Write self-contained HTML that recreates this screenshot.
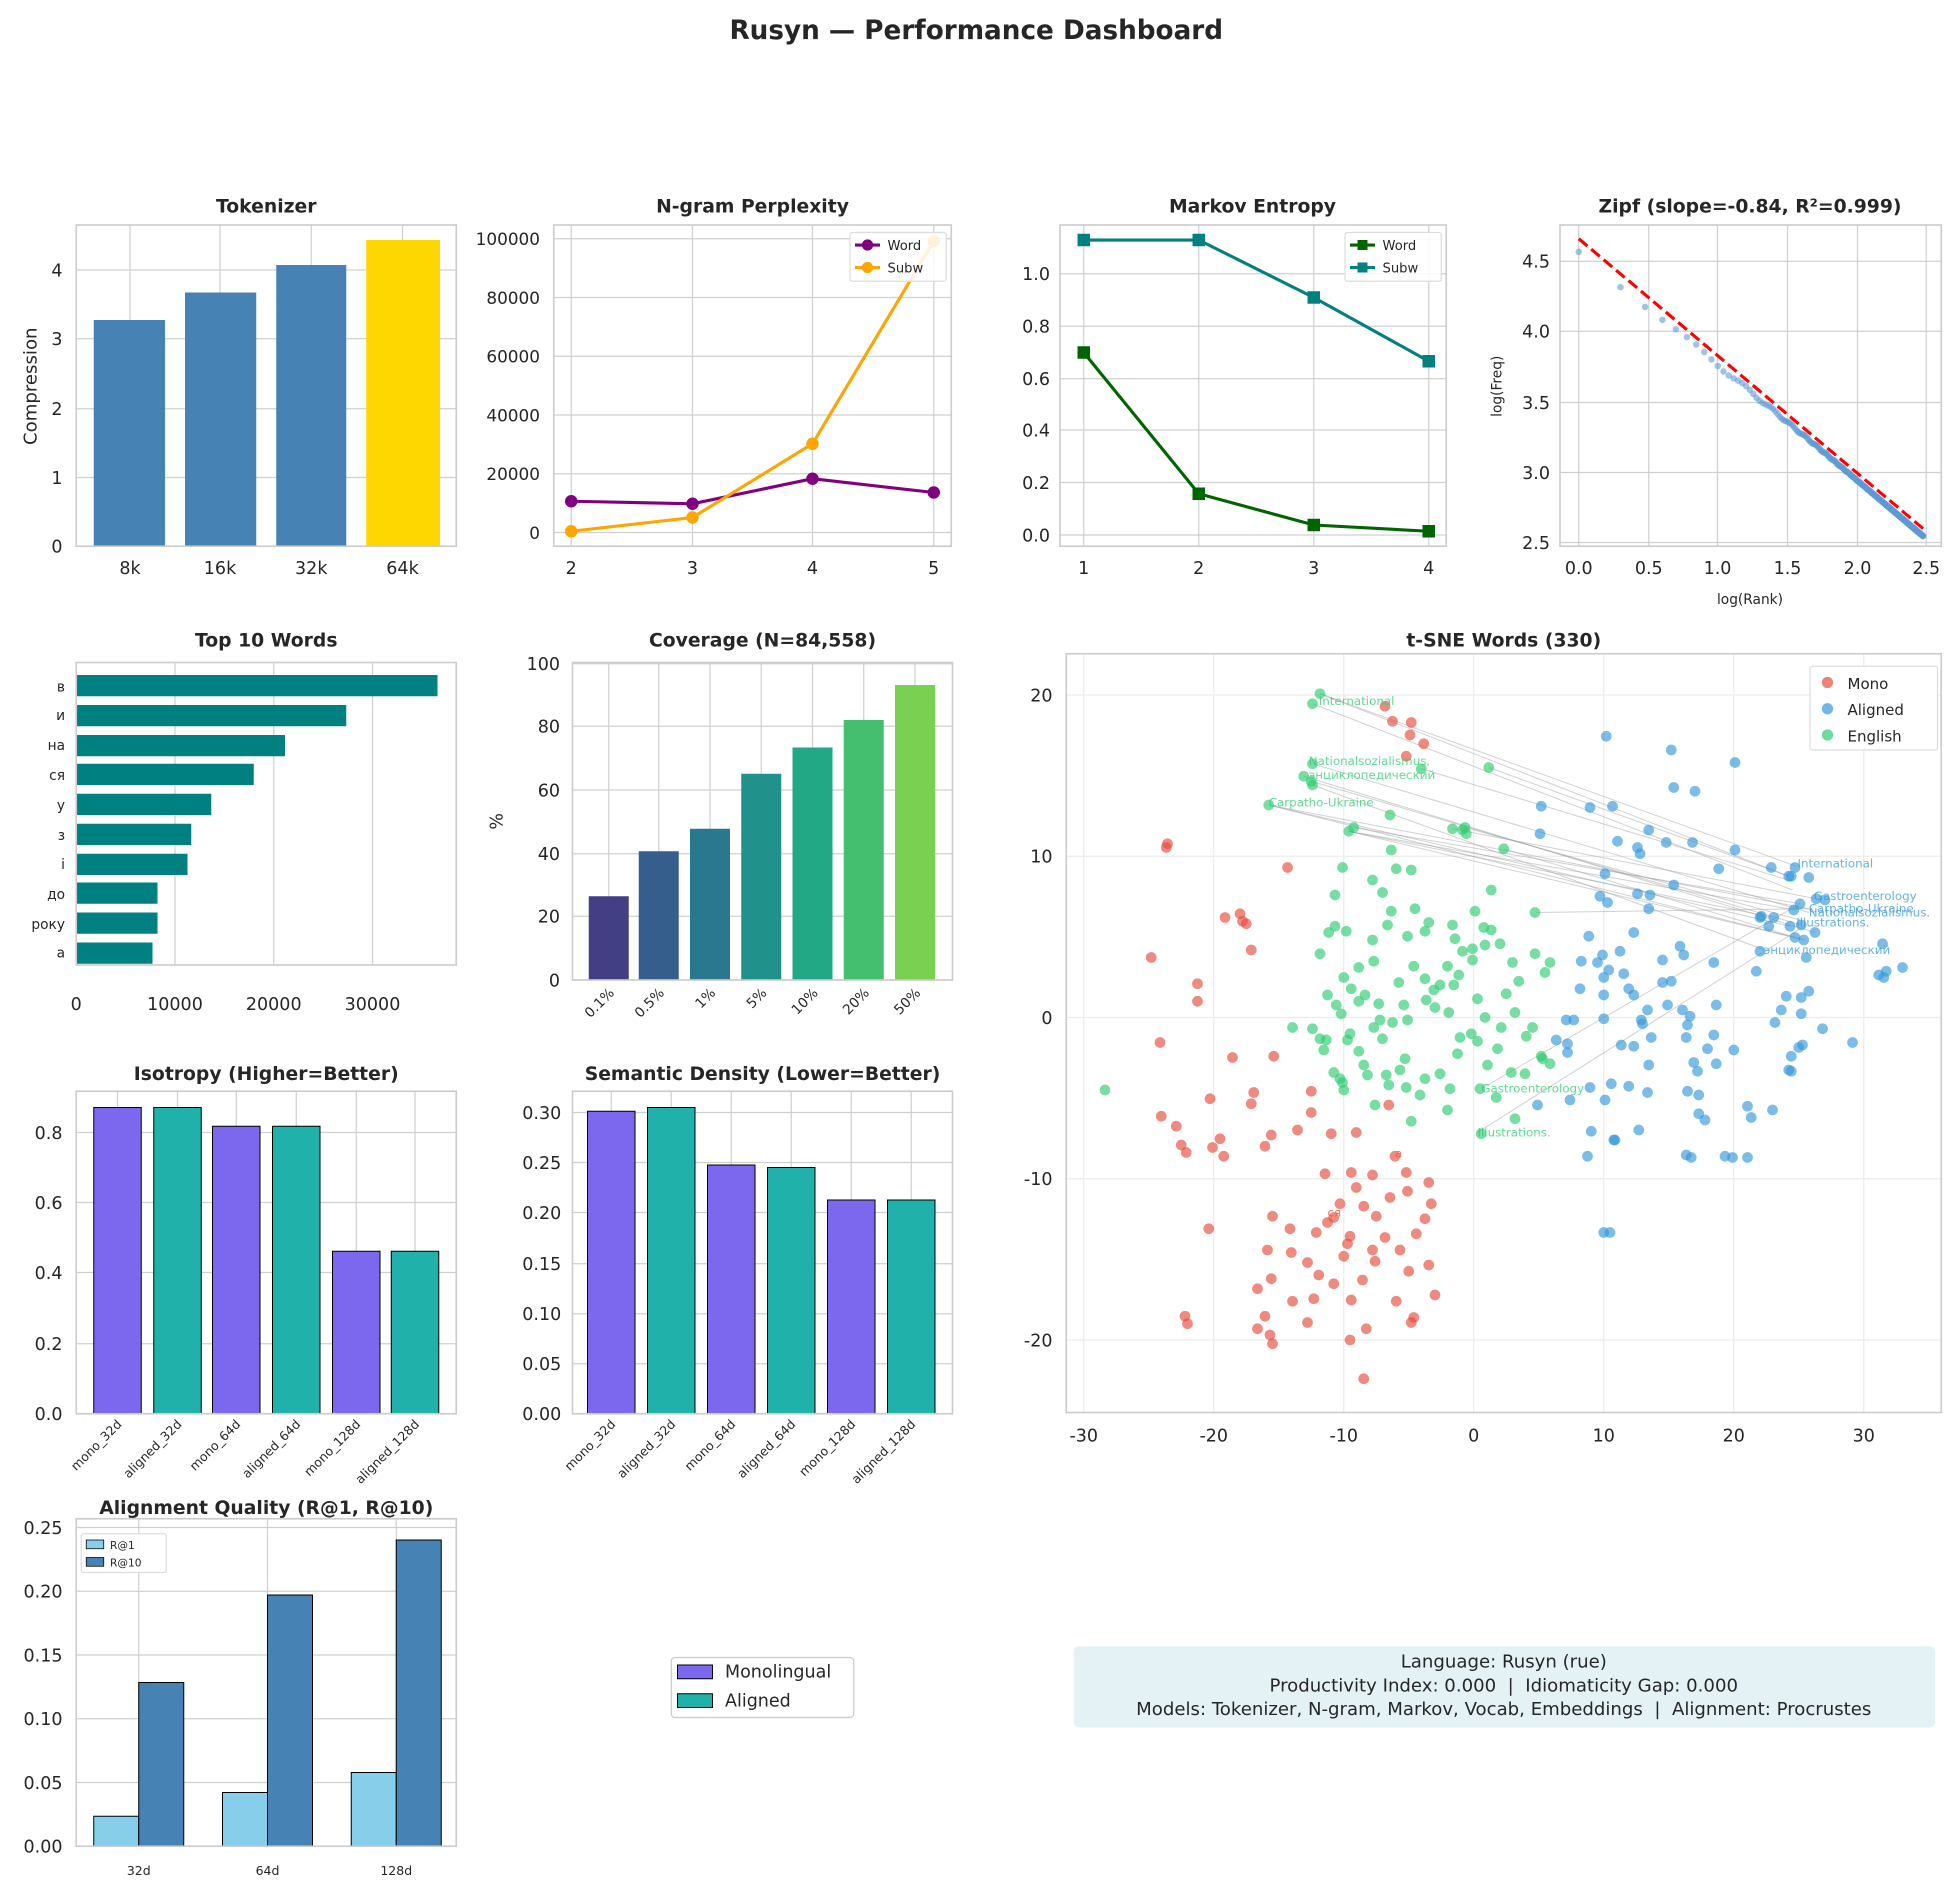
<!DOCTYPE html>
<html><head><meta charset="utf-8"><style>
html,body{margin:0;padding:0;background:#fff}
svg{display:block}
text{font-family:"DejaVu Sans","Liberation Sans",sans-serif;fill:#262626}
.t{font-weight:bold;font-size:15px;text-anchor:middle}
.k{font-size:14px}
.s{font-size:11px}
.g{stroke:#d0d0d0;stroke-width:1}
.ax{fill:none;stroke:#cccccc;stroke-width:1.3}
</style></head><body>
<svg id="sv" width="1953" height="1886" viewBox="0 0 1562.4 1508.8" xmlns="http://www.w3.org/2000/svg">
<rect width="1562.4" height="1508.8" fill="#fff"/>
<text x="781" y="31" style="font-weight:bold;font-size:21px;text-anchor:middle">Rusyn — Performance Dashboard</text>

<!-- Tokenizer -->
<g>
<text class="t" x="213" y="170">Tokenizer</text>
<g class="g"><line x1="61" x2="365" y1="437" y2="437"/><line x1="61" x2="365" y1="382" y2="382"/><line x1="61" x2="365" y1="327" y2="327"/><line x1="61" x2="365" y1="271" y2="271"/><line x1="61" x2="365" y1="216" y2="216"/>
<line x1="104" x2="104" y1="180" y2="437"/><line x1="176" x2="176" y1="180" y2="437"/><line x1="249" x2="249" y1="180" y2="437"/><line x1="322" x2="322" y1="180" y2="437"/></g>
<rect x="75" y="256" width="57" height="181" fill="#4682b4"/>
<rect x="148" y="234" width="57" height="203" fill="#4682b4"/>
<rect x="221" y="212" width="56" height="225" fill="#4682b4"/>
<rect x="293" y="192" width="59" height="245" fill="#ffd700"/>
<rect class="ax" x="61" y="180" width="304" height="257"/>
<g class="k" text-anchor="end"><text x="50" y="442">0</text><text x="50" y="387">1</text><text x="50" y="332">2</text><text x="50" y="276">3</text><text x="50" y="221">4</text></g>
<g class="k" text-anchor="middle"><text x="104" y="459">8k</text><text x="176" y="459">16k</text><text x="249" y="459">32k</text><text x="322" y="459">64k</text></g>
<text class="k" transform="translate(29,309) rotate(-90)" text-anchor="middle" style="font-size:14.5px">Compression</text>
</g>

<!-- N-gram -->
<g>
<text class="t" x="602" y="170">N-gram Perplexity</text>
<g class="g"><line x1="443" x2="761" y1="426" y2="426"/><line x1="443" x2="761" y1="379" y2="379"/><line x1="443" x2="761" y1="332" y2="332"/><line x1="443" x2="761" y1="285" y2="285"/><line x1="443" x2="761" y1="238" y2="238"/><line x1="443" x2="761" y1="191" y2="191"/>
<line x1="457" x2="457" y1="180" y2="437"/><line x1="554" x2="554" y1="180" y2="437"/><line x1="650" x2="650" y1="180" y2="437"/><line x1="747" x2="747" y1="180" y2="437"/></g>
<rect class="ax" x="443" y="180" width="318" height="257"/>
<polyline points="457,401 554,403 650,383 747,394" fill="none" stroke="#800080" stroke-width="2.5"/>
<g fill="#800080"><circle cx="457" cy="401" r="5"/><circle cx="554" cy="403" r="5"/><circle cx="650" cy="383" r="5"/><circle cx="747" cy="394" r="5"/></g>
<polyline points="457,425 554,414 650,355 747,193" fill="none" stroke="#ffa500" stroke-width="2.5"/>
<g fill="#ffa500"><circle cx="457" cy="425" r="5"/><circle cx="554" cy="414" r="5"/><circle cx="650" cy="355" r="5"/><circle cx="747" cy="193" r="5"/></g>
<g text-anchor="end" style="font-size:13.5px"><text x="432" y="431">0</text><text x="432" y="384">20000</text><text x="432" y="337">40000</text><text x="432" y="290">60000</text><text x="432" y="243">80000</text><text x="432" y="196">100000</text></g>
<g class="k" text-anchor="middle"><text x="457" y="459">2</text><text x="554" y="459">3</text><text x="650" y="459">4</text><text x="747" y="459">5</text></g>
<rect x="680" y="186" width="77" height="39" fill="#fff" fill-opacity="0.85" stroke="#ddd" rx="2"/>
<line x1="684" x2="704" y1="196" y2="196" stroke="#800080" stroke-width="2.5"/><circle cx="694" cy="196" r="4.5" fill="#800080"/>
<line x1="684" x2="704" y1="214" y2="214" stroke="#ffa500" stroke-width="2.5"/><circle cx="694" cy="214" r="4.5" fill="#ffa500"/>
<text x="710" y="200" style="font-size:10.5px">Word</text><text x="710" y="218" style="font-size:10.5px">Subw</text>
</g>

<!-- Markov -->
<g>
<text class="t" x="1002" y="170">Markov Entropy</text>
<g class="g"><line x1="848" x2="1157" y1="428" y2="428"/><line x1="848" x2="1157" y1="386" y2="386"/><line x1="848" x2="1157" y1="344" y2="344"/><line x1="848" x2="1157" y1="303" y2="303"/><line x1="848" x2="1157" y1="261" y2="261"/><line x1="848" x2="1157" y1="219" y2="219"/>
<line x1="867" x2="867" y1="180" y2="437"/><line x1="959" x2="959" y1="180" y2="437"/><line x1="1051" x2="1051" y1="180" y2="437"/><line x1="1143" x2="1143" y1="180" y2="437"/></g>
<rect class="ax" x="848" y="180" width="309" height="257"/>
<polyline points="867,282 959,395 1051,420 1143,425" fill="none" stroke="#006400" stroke-width="2.5"/>
<g fill="#006400"><rect x="862" y="277" width="10" height="10"/><rect x="954" y="390" width="10" height="10"/><rect x="1046" y="415" width="10" height="10"/><rect x="1138" y="420" width="10" height="10"/></g>
<polyline points="867,192 959,192 1051,238 1143,289" fill="none" stroke="#008080" stroke-width="2.5"/>
<g fill="#008080"><rect x="862" y="187" width="10" height="10"/><rect x="954" y="187" width="10" height="10"/><rect x="1046" y="233" width="10" height="10"/><rect x="1138" y="284" width="10" height="10"/></g>
<g class="k" text-anchor="end"><text x="840" y="433">0.0</text><text x="840" y="391">0.2</text><text x="840" y="349">0.4</text><text x="840" y="308">0.6</text><text x="840" y="266">0.8</text><text x="840" y="224">1.0</text></g>
<g class="k" text-anchor="middle"><text x="867" y="459">1</text><text x="959" y="459">2</text><text x="1051" y="459">3</text><text x="1143" y="459">4</text></g>
<rect x="1076" y="186" width="77" height="39" fill="#fff" fill-opacity="0.85" stroke="#ddd" rx="2"/>
<line x1="1080" x2="1100" y1="196" y2="196" stroke="#006400" stroke-width="2.5"/><rect x="1086" y="192" width="8" height="8" fill="#006400"/>
<line x1="1080" x2="1100" y1="214" y2="214" stroke="#008080" stroke-width="2.5"/><rect x="1086" y="210" width="8" height="8" fill="#008080"/>
<text x="1106" y="200" style="font-size:10.5px">Word</text><text x="1106" y="218" style="font-size:10.5px">Subw</text>
</g>

<!-- Zipf -->
<g id="zipf">
<text class="t" x="1400" y="170">Zipf (slope=-0.84, R²=0.999)</text>
<g class="g"><line x1="1248" x2="1553" y1="434" y2="434"/><line x1="1248" x2="1553" y1="378" y2="378"/><line x1="1248" x2="1553" y1="322" y2="322"/><line x1="1248" x2="1553" y1="265" y2="265"/><line x1="1248" x2="1553" y1="209" y2="209"/>
<line x1="1263" x2="1263" y1="180" y2="437"/><line x1="1319" x2="1319" y1="180" y2="437"/><line x1="1374" x2="1374" y1="180" y2="437"/><line x1="1430" x2="1430" y1="180" y2="437"/><line x1="1486" x2="1486" y1="180" y2="437"/><line x1="1541" x2="1541" y1="180" y2="437"/></g>
<rect class="ax" x="1248" y="180" width="305" height="257"/>
<g id="zp"></g>
<line x1="1263" y1="191" x2="1541" y2="425" stroke="#ff0000" stroke-width="2.5" stroke-dasharray="9,4"/>
<g class="k" text-anchor="end"><text x="1240" y="439">2.5</text><text x="1240" y="383">3.0</text><text x="1240" y="327">3.5</text><text x="1240" y="270">4.0</text><text x="1240" y="214">4.5</text></g>
<g class="k" text-anchor="middle"><text x="1263" y="459">0.0</text><text x="1319" y="459">0.5</text><text x="1374" y="459">1.0</text><text x="1430" y="459">1.5</text><text x="1486" y="459">2.0</text><text x="1541" y="459">2.5</text></g>
<text class="s" x="1400" y="483" text-anchor="middle">log(Rank)</text>
<text class="s" transform="translate(1201,309) rotate(-90)" text-anchor="middle">log(Freq)</text>
</g>

<!-- Top 10 words -->
<g>
<text class="t" x="213" y="517">Top 10 Words</text>
<g class="g"><line x1="61" x2="61" y1="530" y2="772"/><line x1="140" x2="140" y1="530" y2="772"/><line x1="219" x2="219" y1="530" y2="772"/><line x1="298" x2="298" y1="530" y2="772"/></g>
<g fill="#008080">
<rect x="61" y="540" width="289" height="17"/>
<rect x="61" y="564" width="216" height="17"/>
<rect x="61" y="588" width="167" height="17"/>
<rect x="61" y="611" width="142" height="17"/>
<rect x="61" y="635" width="108" height="17"/>
<rect x="61" y="659" width="92" height="17"/>
<rect x="61" y="683" width="89" height="17"/>
<rect x="61" y="706" width="65" height="17"/>
<rect x="61" y="730" width="65" height="17"/>
<rect x="61" y="754" width="61" height="17"/>
</g>
<rect class="ax" x="61" y="530" width="304" height="242"/>
<g class="s" text-anchor="end"><text x="52" y="553">в</text><text x="52" y="576">и</text><text x="52" y="600">на</text><text x="52" y="624">ся</text><text x="52" y="648">у</text><text x="52" y="672">з</text><text x="52" y="695">і</text><text x="52" y="719">до</text><text x="52" y="743">року</text><text x="52" y="766">а</text></g>
<g class="k" text-anchor="middle"><text x="61" y="808">0</text><text x="140" y="808">10000</text><text x="219" y="808">20000</text><text x="298" y="808">30000</text></g>
</g>

<!-- Coverage -->
<g>
<text class="t" x="610" y="517">Coverage (N=84,558)</text>
<g class="g"><line x1="458" x2="762" y1="784" y2="784"/><line x1="458" x2="762" y1="733" y2="733"/><line x1="458" x2="762" y1="683" y2="683"/><line x1="458" x2="762" y1="632" y2="632"/><line x1="458" x2="762" y1="581" y2="581"/><line x1="458" x2="762" y1="531" y2="531"/>
<line x1="487" x2="487" y1="530" y2="784"/><line x1="527" x2="527" y1="530" y2="784"/><line x1="568" x2="568" y1="530" y2="784"/><line x1="609" x2="609" y1="530" y2="784"/><line x1="650" x2="650" y1="530" y2="784"/><line x1="691" x2="691" y1="530" y2="784"/><line x1="732" x2="732" y1="530" y2="784"/></g>
<rect x="471" y="717" width="32" height="67" fill="#423f85"/>
<rect x="511" y="681" width="32" height="103" fill="#355e8d"/>
<rect x="552" y="663" width="32" height="121" fill="#2a788e"/>
<rect x="593" y="619" width="32" height="165" fill="#21918c"/>
<rect x="634" y="598" width="32" height="186" fill="#22a884"/>
<rect x="675" y="576" width="32" height="208" fill="#44bf70"/>
<rect x="716" y="548" width="32" height="236" fill="#7ad151"/>
<rect class="ax" x="458" y="530" width="304" height="254"/>
<g class="k" text-anchor="end"><text x="448" y="789">0</text><text x="448" y="738">20</text><text x="448" y="688">40</text><text x="448" y="637">60</text><text x="448" y="586">80</text><text x="448" y="536">100</text></g>
<text class="k" transform="translate(402,657) rotate(-90)" text-anchor="middle">%</text>
<g class="s" text-anchor="end">
<text transform="translate(492,795) rotate(-45)">0.1%</text><text transform="translate(532,795) rotate(-45)">0.5%</text><text transform="translate(573,795) rotate(-45)">1%</text><text transform="translate(614,795) rotate(-45)">5%</text><text transform="translate(655,795) rotate(-45)">10%</text><text transform="translate(696,795) rotate(-45)">20%</text><text transform="translate(737,795) rotate(-45)">50%</text></g>
</g>

<!-- t-SNE -->
<g>
<text class="t" x="1203" y="517">t-SNE Words (330)</text>
<g stroke="#ececec" stroke-width="1"><line x1="853" x2="1553" y1="556" y2="556"/><line x1="853" x2="1553" y1="685" y2="685"/><line x1="853" x2="1553" y1="814" y2="814"/><line x1="853" x2="1553" y1="943" y2="943"/><line x1="853" x2="1553" y1="1072" y2="1072"/>
<line x1="867" x2="867" y1="523" y2="1130"/><line x1="971" x2="971" y1="523" y2="1130"/><line x1="1075" x2="1075" y1="523" y2="1130"/><line x1="1179" x2="1179" y1="523" y2="1130"/><line x1="1283" x2="1283" y1="523" y2="1130"/><line x1="1387" x2="1387" y1="523" y2="1130"/><line x1="1491" x2="1491" y1="523" y2="1130"/></g>
<g stroke="#999" stroke-opacity="0.45" stroke-width="0.8" fill="none">
<line x1="1056" y1="555" x2="1437" y2="693"/><line x1="1050" y1="563" x2="1434" y2="712"/><line x1="1056" y1="555" x2="1431" y2="701"/>
<line x1="1050" y1="611" x2="1447" y2="730"/><line x1="1049" y1="625" x2="1441" y2="740"/><line x1="1050" y1="628" x2="1412" y2="760"/><line x1="1043" y1="621" x2="1452" y2="746"/>
<line x1="1015" y1="644" x2="1447" y2="727"/><line x1="1015" y1="644" x2="1436" y2="750"/><line x1="1015" y1="644" x2="1432" y2="741"/>
<line x1="1083" y1="662" x2="1440" y2="723"/><line x1="1079" y1="665" x2="1436" y2="728"/><line x1="1079" y1="665" x2="1444" y2="752"/><line x1="1079" y1="665" x2="1419" y2="734"/>
<line x1="1162" y1="663" x2="1453" y2="719"/><line x1="1172" y1="662" x2="1440" y2="736"/><line x1="1203" y1="679" x2="1443" y2="752"/><line x1="1137" y1="615" x2="1434" y2="705"/>
<line x1="1191" y1="614" x2="1431" y2="701"/><line x1="1229" y1="730" x2="1447" y2="727"/>
<line x1="1185" y1="871" x2="1440" y2="723"/><line x1="1182" y1="906" x2="1445" y2="740"/>
</g>
<g id="ts"></g>
<g style="font-size:9.5px">
<text x="1055" y="564" style="fill:#2ecc71;fill-opacity:.75">International</text>
<text x="1047" y="612" style="fill:#2ecc71;fill-opacity:.75">Nationalsozialismus.</text>
<text x="1047" y="623" style="fill:#2ecc71;fill-opacity:.75">энциклопедический</text>
<text x="1015" y="645" style="fill:#2ecc71;fill-opacity:.75">Carpatho-Ukraine</text>
<text x="1185" y="874" style="fill:#2ecc71;fill-opacity:.75">Gastroenterology</text>
<text x="1182" y="909" style="fill:#2ecc71;fill-opacity:.75">Illustrations.</text>
<text x="1438" y="694" style="fill:#3498db;fill-opacity:.75">International</text>
<text x="1451" y="720" style="fill:#3498db;fill-opacity:.75">Gastroenterology</text>
<text x="1447" y="730" style="fill:#3498db;fill-opacity:.75">Carpatho-Ukraine</text>
<text x="1447" y="733" style="fill:#3498db;fill-opacity:.75">Nationalsozialismus.</text>
<text x="1437" y="741" style="fill:#3498db;fill-opacity:.75">Illustrations.</text>
<text x="1411" y="763" style="fill:#3498db;fill-opacity:.75">энциклопедический</text>
<text x="1116" y="926" style="fill:#e74c3c;fill-opacity:.75">а</text>
<text x="1062" y="973" style="fill:#e74c3c;fill-opacity:.75">ся</text>
</g>
<rect class="ax" x="853" y="523" width="700" height="607"/>
<g class="k" text-anchor="end"><text x="842" y="561">20</text><text x="842" y="690">10</text><text x="842" y="819">0</text><text x="842" y="948">-10</text><text x="842" y="1077">-20</text></g>
<g class="k" text-anchor="middle"><text x="867" y="1153">-30</text><text x="971" y="1153">-20</text><text x="1075" y="1153">-10</text><text x="1179" y="1153">0</text><text x="1283" y="1153">10</text><text x="1387" y="1153">20</text><text x="1491" y="1153">30</text></g>
<rect x="1448" y="533" width="102" height="67" fill="#fff" fill-opacity="0.9" stroke="#ddd" rx="2"/>
<circle cx="1462" cy="546" r="4.5" fill="#e74c3c" fill-opacity="0.7"/><circle cx="1462" cy="567" r="4.5" fill="#3498db" fill-opacity="0.7"/><circle cx="1462" cy="588" r="4.5" fill="#2ecc71" fill-opacity="0.7"/>
<g style="font-size:12px"><text x="1478" y="551">Mono</text><text x="1478" y="572">Aligned</text><text x="1478" y="593">English</text></g>
</g>

<!-- Isotropy -->
<g>
<text class="t" x="213" y="864">Isotropy (Higher=Better)</text>
<g class="g"><line x1="61" x2="365" y1="1131" y2="1131"/><line x1="61" x2="365" y1="1075" y2="1075"/><line x1="61" x2="365" y1="1018" y2="1018"/><line x1="61" x2="365" y1="962" y2="962"/><line x1="61" x2="365" y1="906" y2="906"/>
<line x1="94" x2="94" y1="873" y2="1131"/><line x1="142" x2="142" y1="873" y2="1131"/><line x1="189" x2="189" y1="873" y2="1131"/><line x1="237" x2="237" y1="873" y2="1131"/><line x1="285" x2="285" y1="873" y2="1131"/><line x1="332" x2="332" y1="873" y2="1131"/></g>
<g stroke="#000" stroke-width="0.8">
<rect x="75" y="886" width="38" height="245" fill="#7b68ee"/><rect x="123" y="886" width="38" height="245" fill="#20b2aa"/>
<rect x="170" y="901" width="38" height="230" fill="#7b68ee"/><rect x="218" y="901" width="38" height="230" fill="#20b2aa"/>
<rect x="266" y="1001" width="38" height="130" fill="#7b68ee"/><rect x="313" y="1001" width="38" height="130" fill="#20b2aa"/></g>
<rect class="ax" x="61" y="873" width="304" height="258"/>
<g class="k" text-anchor="end"><text x="50" y="1136">0.0</text><text x="50" y="1080">0.2</text><text x="50" y="1023">0.4</text><text x="50" y="967">0.6</text><text x="50" y="911">0.8</text></g>
<g style="font-size:10px" text-anchor="end">
<text transform="translate(98,1140) rotate(-45)">mono_32d</text><text transform="translate(146,1140) rotate(-45)">aligned_32d</text><text transform="translate(193,1140) rotate(-45)">mono_64d</text><text transform="translate(241,1140) rotate(-45)">aligned_64d</text><text transform="translate(289,1140) rotate(-45)">mono_128d</text><text transform="translate(336,1140) rotate(-45)">aligned_128d</text></g>
</g>

<!-- Semantic -->
<g>
<text class="t" x="610" y="864">Semantic Density (Lower=Better)</text>
<g class="g"><line x1="458" x2="762" y1="1131" y2="1131"/><line x1="458" x2="762" y1="1091" y2="1091"/><line x1="458" x2="762" y1="1051" y2="1051"/><line x1="458" x2="762" y1="1011" y2="1011"/><line x1="458" x2="762" y1="970" y2="970"/><line x1="458" x2="762" y1="930" y2="930"/><line x1="458" x2="762" y1="890" y2="890"/>
<line x1="489" x2="489" y1="873" y2="1131"/><line x1="537" x2="537" y1="873" y2="1131"/><line x1="585" x2="585" y1="873" y2="1131"/><line x1="633" x2="633" y1="873" y2="1131"/><line x1="681" x2="681" y1="873" y2="1131"/><line x1="729" x2="729" y1="873" y2="1131"/></g>
<g stroke="#000" stroke-width="0.8">
<rect x="470" y="889" width="38" height="242" fill="#7b68ee"/><rect x="518" y="886" width="38" height="245" fill="#20b2aa"/>
<rect x="566" y="932" width="38" height="199" fill="#7b68ee"/><rect x="614" y="934" width="38" height="197" fill="#20b2aa"/>
<rect x="662" y="960" width="38" height="171" fill="#7b68ee"/><rect x="710" y="960" width="38" height="171" fill="#20b2aa"/></g>
<rect class="ax" x="458" y="873" width="304" height="258"/>
<g class="k" text-anchor="end"><text x="449" y="1136">0.00</text><text x="449" y="1096">0.05</text><text x="449" y="1056">0.10</text><text x="449" y="1016">0.15</text><text x="449" y="975">0.20</text><text x="449" y="935">0.25</text><text x="449" y="895">0.30</text></g>
<g style="font-size:10px" text-anchor="end">
<text transform="translate(493,1140) rotate(-45)">mono_32d</text><text transform="translate(541,1140) rotate(-45)">aligned_32d</text><text transform="translate(589,1140) rotate(-45)">mono_64d</text><text transform="translate(637,1140) rotate(-45)">aligned_64d</text><text transform="translate(685,1140) rotate(-45)">mono_128d</text><text transform="translate(733,1140) rotate(-45)">aligned_128d</text></g>
</g>

<!-- Alignment -->
<g>
<text class="t" x="213" y="1211">Alignment Quality (R@1, R@10)</text>
<g class="g"><line x1="61" x2="365" y1="1477" y2="1477"/><line x1="61" x2="365" y1="1426" y2="1426"/><line x1="61" x2="365" y1="1375" y2="1375"/><line x1="61" x2="365" y1="1324" y2="1324"/><line x1="61" x2="365" y1="1273" y2="1273"/><line x1="61" x2="365" y1="1222" y2="1222"/>
<line x1="111" x2="111" y1="1215" y2="1477"/><line x1="214" x2="214" y1="1215" y2="1477"/><line x1="317" x2="317" y1="1215" y2="1477"/></g>
<g stroke="#000" stroke-width="0.8">
<rect x="75" y="1453" width="36" height="24" fill="#87ceeb"/><rect x="111" y="1346" width="36" height="131" fill="#4682b4"/>
<rect x="178" y="1434" width="36" height="43" fill="#87ceeb"/><rect x="214" y="1276" width="36" height="201" fill="#4682b4"/>
<rect x="281" y="1418" width="36" height="59" fill="#87ceeb"/><rect x="317" y="1232" width="36" height="245" fill="#4682b4"/></g>
<rect class="ax" x="61" y="1215" width="304" height="262"/>
<g class="k" text-anchor="end"><text x="50" y="1482">0.00</text><text x="50" y="1431">0.05</text><text x="50" y="1380">0.10</text><text x="50" y="1329">0.15</text><text x="50" y="1278">0.20</text><text x="50" y="1227">0.25</text></g>
<g style="font-size:10px" text-anchor="middle"><text x="111" y="1500">32d</text><text x="214" y="1500">64d</text><text x="317" y="1500">128d</text></g>
<rect x="65" y="1227" width="68" height="31" fill="#fff" fill-opacity="0.9" stroke="#ddd" rx="2"/>
<rect x="69" y="1232" width="14" height="7" fill="#87ceeb" stroke="#000" stroke-width="0.6"/><rect x="69" y="1246" width="14" height="7" fill="#4682b4" stroke="#000" stroke-width="0.6"/>
<g style="font-size:8.5px"><text x="88" y="1239">R@1</text><text x="88" y="1253">R@10</text></g>
</g>

<!-- bottom legend -->
<rect x="537" y="1326" width="146" height="48" fill="#fff" stroke="#ccc" rx="3"/>
<rect x="542" y="1332" width="28" height="11" fill="#7b68ee" stroke="#000" stroke-width="0.8"/>
<rect x="542" y="1355" width="28" height="11" fill="#20b2aa" stroke="#000" stroke-width="0.8"/>
<text class="k" x="580" y="1342">Monolingual</text><text class="k" x="580" y="1365">Aligned</text>

<!-- info box -->
<rect x="859" y="1317" width="689" height="65" fill="#e4f2f5" rx="4"/>
<g style="font-size:14.5px" text-anchor="middle"><text x="1203" y="1334">Language: Rusyn (rue)</text><text x="1203" y="1353">Productivity Index: 0.000 &#160;| &#160;Idiomaticity Gap: 0.000</text><text x="1203" y="1372">Models: Tokenizer, N-gram, Markov, Vocab, Embeddings &#160;| &#160;Alignment: Procrustes</text></g>
</svg>
<script>
(function(){
var NS="http://www.w3.org/2000/svg";
function c(g,x,y,r,f,o){var e=document.createElementNS(NS,"circle");e.setAttribute("cx",x);e.setAttribute("cy",y);e.setAttribute("r",r);e.setAttribute("fill",f);e.setAttribute("fill-opacity",o);g.appendChild(e);}
var zp=document.getElementById("zp");
for(var r=1;r<=300;r++){var lx=Math.log10(r);var ly=4.58-0.815*lx-0.02*Math.sin(r*0.7)*Math.exp(-r/40)-(lx>1.7?0.02*(lx-1.7):0);c(zp,1263+lx*111.2,434-(ly-2.5)*112.5,2.6,"#5b9bd5",0.6);}
var R=[[934,675],[933,678],[921,766],[928,834],[958,801],[929,893],[941,901],[986,846],[1030,694],[1108,565],[1114,577],[1129,578],[1128,588],[1139,595],[1125,605],[980,734],[994,737],[992,731],[997,739],[1001,760],[958,787],[968,879],[1003,874],[1001,883],[1019,845],[1049,873],[1049,890],[1038,904],[1017,908],[1012,917],[979,925],[976,911],[949,922],[945,916],[970,918],[1065,907],[1085,906],[1111,884],[1125,938],[1116,925],[1060,939],[1072,963],[1067,974],[1091,965],[1078,995],[1100,1009],[1112,958],[1143,946],[1145,963],[1140,975],[1133,987],[1101,973],[1080,989],[1062,978],[1053,986],[1018,973],[1014,1000],[1032,983],[1046,1010],[1055,1020],[1075,1005],[1090,1024],[1081,1040],[1093,1063],[1080,1072],[1067,1027],[1033,1002],[1051,1039],[1012,1053],[1016,1068],[1018,1075],[1006,1063],[1034,1041],[1046,1058],[1117,1041],[1131,1054],[1129,1058],[1148,1036],[1127,1017],[1098,1000],[967,983],[948,1053],[950,1059],[1017,1023],[1006,1031],[1081,938],[1085,950],[1098,940],[1126,953],[1091,1103],[1143,1012],[1108,990],[1120,1000]];
var G=[[1056,555],[1050,563],[1137,615],[1112,652],[1043,621],[1050,611],[1049,625],[1050,628],[1015,644],[1079,665],[1083,662],[1162,663],[1191,614],[1172,662],[1170,664],[1203,679],[1173,667],[1117,695],[1113,680],[1129,696],[1074,694],[1132,727],[1113,729],[1193,712],[1180,729],[1193,744],[1143,738],[1126,749],[1131,773],[1140,783],[1098,752],[1077,745],[1068,716],[1063,746],[1068,741],[1056,763],[1087,774],[1075,782],[1092,796],[1103,803],[1104,816],[1106,831],[1123,804],[1126,816],[1114,818],[1099,822],[1091,852],[1109,860],[1120,856],[1124,847],[1136,876],[1152,859],[1166,843],[1168,830],[1177,827],[1159,810],[1148,806],[1141,800],[1152,788],[1158,773],[1170,761],[1178,759],[1178,768],[1164,751],[1162,740],[1187,742],[1188,756],[1200,755],[1182,799],[1188,814],[1201,822],[1198,839],[1182,833],[1190,852],[1197,878],[1209,858],[1221,829],[1226,822],[1212,810],[1215,785],[1205,795],[1210,770],[1228,763],[1240,770],[1236,778],[1228,730],[1233,845],[1240,851],[1220,859],[1234,847],[1184,871],[1185,907],[1212,895],[1158,888],[1129,897],[1125,870],[1160,871],[1111,868],[1100,884],[1075,872],[1067,858],[1059,840],[1061,832],[1056,831],[1034,822],[1078,832],[1087,841],[1080,827],[1073,811],[1069,804],[1081,791],[1099,769],[1062,796],[1087,801],[1119,786],[1147,792],[1163,788],[1167,780],[1140,745],[1110,740],[1106,714],[1098,704],[884,872],[1072,863],[1074,866],[1094,860],[1050,823],[1140,863]];
var B=[[1285,589],[1337,600],[1388,610],[1290,645],[1272,646],[1319,664],[1356,633],[1339,630],[1333,674],[1388,680],[1375,695],[1417,694],[1294,673],[1312,683],[1310,678],[1284,699],[1310,715],[1319,727],[1320,716],[1339,708],[1436,694],[1433,701],[1447,702],[1440,723],[1453,719],[1435,728],[1432,741],[1460,720],[1441,740],[1436,750],[1452,746],[1409,733],[1443,752],[1445,766],[1431,701],[1408,734],[1419,734],[1415,741],[1408,761],[1405,777],[1371,770],[1344,757],[1347,764],[1330,768],[1330,786],[1337,785],[1346,808],[1350,820],[1314,819],[1321,830],[1373,804],[1387,840],[1349,830],[1352,813],[1297,836],[1254,835],[1259,816],[1271,749],[1278,770],[1283,782],[1286,722],[1307,746],[1282,764],[1299,779],[1283,796],[1307,796],[1265,769],[1264,791],[1287,776],[1283,815],[1318,808],[1334,804],[1307,837],[1254,842],[1256,880],[1273,905],[1289,867],[1284,880],[1272,870],[1303,869],[1318,874],[1319,852],[1355,850],[1358,857],[1371,828],[1366,839],[1373,851],[1359,891],[1353,926],[1349,924],[1291,912],[1292,912],[1283,986],[1288,986],[1270,925],[1230,884],[1303,791],[1429,797],[1425,808],[1441,811],[1420,818],[1442,836],[1439,838],[1433,845],[1431,856],[1433,857],[1458,823],[1482,834],[1441,798],[1506,755],[1509,777],[1503,780],[1507,782],[1522,774],[1447,793],[1350,873],[1359,876],[1398,885],[1401,894],[1418,888],[1364,896],[1380,925],[1386,926],[1398,926],[1311,904],[1245,832],[1296,761],[1313,816],[1253,816],[1280,717],[1232,667],[1233,645],[1354,674]];
var ts=document.getElementById("ts");
R.forEach(function(p){c(ts,p[0],p[1],4.3,"#e74c3c",0.65);});
G.forEach(function(p){c(ts,p[0],p[1],4.3,"#2ecc71",0.65);});
B.forEach(function(p){c(ts,p[0],p[1],4.3,"#3498db",0.65);});
})();
</script>
</body></html>
